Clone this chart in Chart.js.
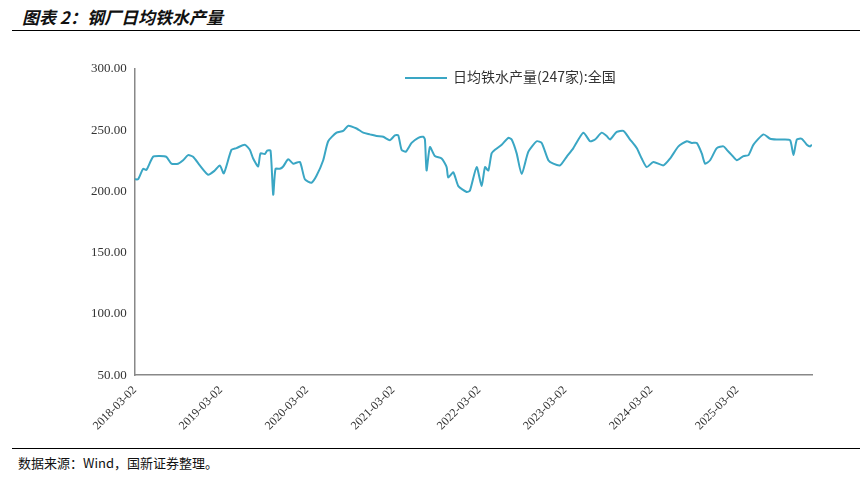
<!DOCTYPE html>
<html><head><meta charset="utf-8">
<script src="https://cdn.jsdelivr.net/npm/chart.js@4"></script>
<style>
body{margin:0;width:868px;height:477px;background:#fff;font-family:"Noto Sans CJK SC",sans-serif;position:relative;overflow:hidden}
#title{position:absolute;left:22px;top:4px;font-size:17px;font-weight:bold;font-style:italic;color:#111}
#line1{position:absolute;left:12px;right:8px;top:30px;border-top:1.5px solid #000}
#line2{position:absolute;left:12px;right:8px;top:448px;border-top:1.5px solid #000}
#src{position:absolute;left:18px;top:453px;font-size:13px;color:#111;font-family:"Noto Sans CJK SC",serif}
#wrap{position:absolute;left:40px;top:58px;width:800px;height:378px}
#leg{position:absolute;left:405px;top:66px;font-size:14px;color:#333}
#leg span{display:inline-block;width:42px;height:2px;background:#3aa6c4;vertical-align:middle;margin-right:6px}
</style></head><body>
<div id="title">图表 2：钢厂日均铁水产量</div>
<div id="line1"></div>
<div id="wrap"><canvas id="c"></canvas></div>
<div id="leg"><span></span>日均铁水产量(247家):全国</div>
<div id="line2"></div>
<div id="src">数据来源：Wind，国新证券整理。</div>
<script>
// x = years since 2018-03-02
const tickLabels = ["2018-03-02","2019-03-02","2020-03-02","2021-03-02","2022-03-02","2023-03-02","2024-03-02","2025-03-02"];
const xs = [0,0.039,0.097,0.136,0.213,0.291,0.368,0.426,0.504,0.562,0.620,0.678,0.756,0.853,0.930,0.988,1.035,1.124,1.182,1.279,1.337,1.376,1.434,1.461,1.512,1.539,1.578,1.609,1.636,1.686,1.725,1.783,1.841,1.919,1.977,2.054,2.112,2.190,2.248,2.345,2.422,2.481,2.578,2.655,2.733,2.810,2.888,2.965,3.023,3.062,3.101,3.151,3.217,3.295,3.353,3.372,3.391,3.430,3.488,3.566,3.624,3.643,3.702,3.760,3.857,3.895,3.973,4.031,4.070,4.109,4.147,4.186,4.264,4.341,4.380,4.438,4.496,4.574,4.671,4.729,4.806,4.864,4.942,5.019,5.097,5.213,5.291,5.349,5.426,5.484,5.523,5.601,5.678,5.756,5.833,5.891,5.950,6.027,6.143,6.221,6.318,6.415,6.473,6.531,6.589,6.628,6.686,6.764,6.841,6.880,6.938,6.996,7.074,7.132,7.190,7.306,7.384,7.461,7.539,7.616,7.655,7.694,7.752,7.810,7.849,7.868];
const vals = [209.9,209.9,218.4,217.5,228.2,228.8,228.2,222.6,222.6,225.4,229.6,228.2,221.2,213.6,217,221.2,214.7,233.9,235.3,238.1,233.9,226.8,220.3,231,230.5,233.3,233.3,197.3,218.4,218.4,220.3,226.2,222.6,224,209.9,207.1,212.7,225.4,240.9,247.9,249.3,253.6,251.3,247.9,246.5,245.1,244.5,241.7,245.7,245.7,233.9,232.4,239.5,243.7,244.5,242.3,217,236.1,228.8,226.8,219.8,211.3,215.5,204.3,199.5,200.6,219.8,204.3,219.8,217,231,233.9,238.1,243.7,242.3,231,214.1,232.4,240.9,239.5,225.4,222.6,221.2,228.2,235.3,247.9,240.9,242.3,247.9,245.1,242.3,248.5,249.3,242.3,235.3,226.8,219.8,224,221.2,226.8,236.7,240.9,239.5,239.5,231,222.6,225.4,235.3,236.7,233.9,229.6,225.4,228.8,229.6,238.1,246.5,242.9,242.3,242.3,241.7,229.6,242.3,242.9,238.1,236.7,238.1];
const series = xs.map((x,i)=>({x:x,y:vals[i]}));
new Chart(document.getElementById("c"),{
  type:"line",
  data:{datasets:[{label:"日均铁水产量(247家):全国",data:series,borderColor:"#3aa6c4",borderWidth:2,pointRadius:0,tension:0.2}]},
  options:{responsive:true,maintainAspectRatio:false,animation:false,
    layout:{padding:{left:48,right:28}},
    plugins:{legend:{display:false},tooltip:{enabled:false}},
    scales:{
      x:{type:"linear",min:0,max:7.87,grid:{display:false,drawTicks:true,tickLength:5},border:{color:"#888",width:1.5},
        ticks:{stepSize:1,maxRotation:45,minRotation:45,color:"#333",font:{size:12,family:"Times New Roman, Liberation Serif"},callback:v=>tickLabels[v]||""}},
      y:{min:50,max:300,grid:{display:false,tickLength:5},border:{color:"#888",width:1.5},
        ticks:{stepSize:50,color:"#333",font:{size:13,family:"Liberation Serif"},callback:v=>v.toFixed(2)}}
    }}
});
</script>
</body></html>
